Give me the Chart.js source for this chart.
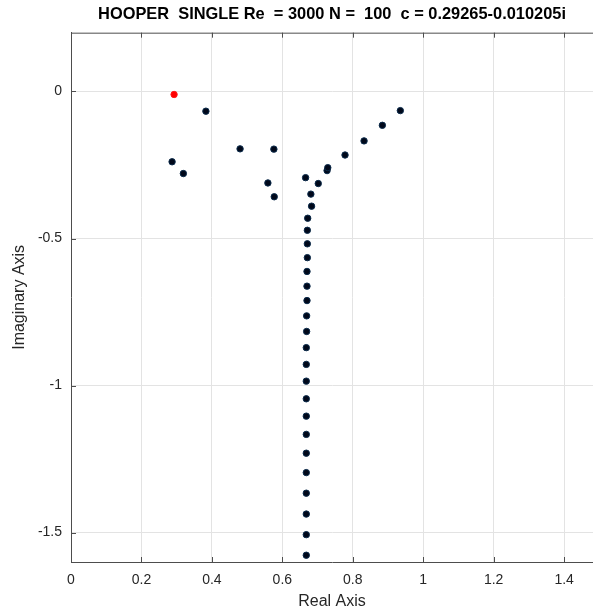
<!DOCTYPE html>
<html>
<head>
<meta charset="utf-8">
<script src="https://cdn.jsdelivr.net/npm/chart.js@4.4.1/dist/chart.umd.min.js"></script>
<style>
  html, body { margin: 0; padding: 0; background: #fff; }
  #wrap { width: 593px; height: 614px; }
</style>
</head>
<body>
<div id="wrap"><canvas id="spectrumChart"></canvas></div>
<script>
// eigenvalue spectrum (real, imaginary parts)
const realParts = [
    0.383, 0.287, 0.319, 0.480, 0.576, 0.559, 0.577, 0.666, 0.702, 0.681,
    0.683, 0.672, 0.727, 0.729, 0.778, 0.832, 0.884, 0.935,
    0.671, 0.671, 0.671, 0.670, 0.670, 0.670, 0.669, 0.669, 0.668, 0.668,
    0.668, 0.668, 0.668, 0.668, 0.668, 0.668, 0.668, 0.668, 0.668, 0.668
];
const imagParts = [
    -0.067, -0.239, -0.279, -0.195, -0.196, -0.311, -0.358, -0.293, -0.313, -0.349,
    -0.390, -0.431, -0.269, -0.259, -0.216, -0.168, -0.115, -0.065,
    -0.472, -0.518, -0.565, -0.612, -0.662, -0.711, -0.763, -0.816, -0.871, -0.928,
    -0.985, -1.045, -1.104, -1.166, -1.230, -1.296, -1.366, -1.437, -1.507, -1.577
];
// critical eigenvalue c
const criticalReal = [0.29265];
const criticalImag = [-0.010205];

const xTicks = [0, 0.2, 0.4, 0.6, 0.8, 1, 1.2, 1.4];
const yTicks = [0, -0.5, -1, -1.5];

const chartTitle = "HOOPER  SINGLE Re  = 3000 N =  100  c = 0.29265-0.010205i";

const axisColor = "#4d4d4d";
const textColor = "#262626";
const fontFamily = "'Liberation Sans', Arial, sans-serif";

// MATLAB-like box: top border line and inward tick marks
const boxPlugin = {
    id: "boxPlugin",
    afterDraw(chart) {
        const { ctx, chartArea, scales } = chart;
        const len = 5;
        ctx.save();
        ctx.strokeStyle = axisColor;
        ctx.lineWidth = 1;
        ctx.beginPath();
        ctx.moveTo(chartArea.left, chartArea.top + 0.5);
        ctx.lineTo(chartArea.right, chartArea.top + 0.5);
        xTicks.forEach(v => {
            const px = Math.round(scales.x.getPixelForValue(v)) + 0.5;
            ctx.moveTo(px, chartArea.bottom);
            ctx.lineTo(px, chartArea.bottom - len);
            ctx.moveTo(px, chartArea.top);
            ctx.lineTo(px, chartArea.top + len);
        });
        yTicks.forEach(v => {
            const py = Math.round(scales.y.getPixelForValue(v)) + 0.5;
            ctx.moveTo(chartArea.left, py);
            ctx.lineTo(chartArea.left + len, py);
        });
        ctx.stroke();
        ctx.restore();
    }
};

const ctx = document.getElementById("spectrumChart").getContext("2d");
new Chart(ctx, {
    type: "scatter",
    data: {
        datasets: [
            {
                label: "spectrum",
                data: realParts.map((x, i) => ({ x: x, y: imagParts[i] })),
                backgroundColor: "#00081a",
                borderColor: "#0a2a4a",
                borderWidth: 1,
                pointRadius: 3.2
            },
            {
                label: "c",
                data: criticalReal.map((x, i) => ({ x: x, y: criticalImag[i] })),
                backgroundColor: "#ff0000",
                borderColor: "#ff1a1a",
                borderWidth: 1,
                pointRadius: 3.2
            }
        ]
    },
    options: {
        responsive: true,
        maintainAspectRatio: false,
        animation: false,
        layout: { padding: 0, autoPadding: false },
        plugins: {
            legend: { display: false },
            tooltip: { enabled: false },
            title: {
                display: true,
                text: chartTitle,
                fullSize: false,
                color: "#000",
                font: { family: fontFamily, size: 16.4, weight: "bold", lineHeight: 1.2 },
                padding: { top: 5, bottom: 8 }
            }
        },
        scales: {
            x: {
                type: "linear",
                min: 0,
                max: 1.482,
                afterFit: s => { s.height = 52; },
                afterBuildTicks: s => { s.ticks = xTicks.map(v => ({ value: v })); },
                ticks: {
                    color: textColor,
                    padding: 10,
                    font: { family: fontFamily, size: 14 },
                    callback: v => String(v)
                },
                grid: { color: "#e3e3e3", drawTicks: false },
                border: { display: true, color: axisColor },
                title: {
                    display: true,
                    text: "Real Axis",
                    color: textColor,
                    font: { family: fontFamily, size: 16 },
                    padding: { top: 0, bottom: 3 }
                }
            },
            y: {
                type: "linear",
                min: -1.6,
                max: 0.2,
                afterFit: s => { s.width = 71; },
                afterBuildTicks: s => { s.ticks = yTicks.map(v => ({ value: v })); },
                ticks: {
                    color: textColor,
                    padding: 9,
                    font: { family: fontFamily, size: 14 },
                    callback: v => String(v)
                },
                grid: { color: "#e3e3e3", drawTicks: false },
                border: { display: true, color: axisColor },
                title: {
                    display: true,
                    text: "Imaginary Axis",
                    color: textColor,
                    font: { family: fontFamily, size: 16 },
                    padding: { top: 10, bottom: 0 }
                }
            }
        }
    },
    plugins: [boxPlugin]
});
</script>
</body>
</html>
